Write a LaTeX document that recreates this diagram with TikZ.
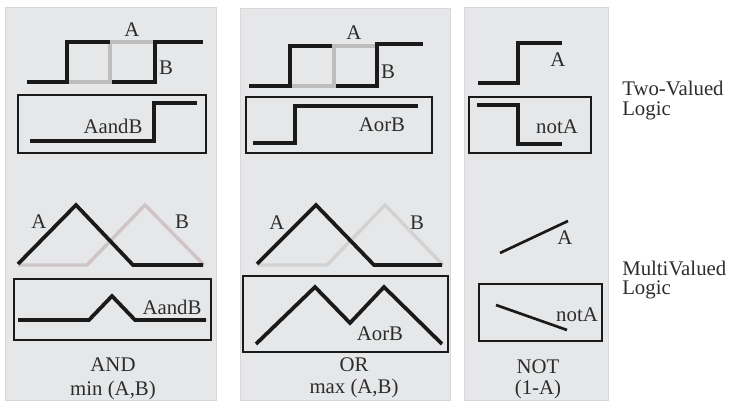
\documentclass[tikz,border=0pt]{standalone}
\usepackage{fontspec}
\setmainfont{Liberation Serif}
\definecolor{panel}{HTML}{E6E7E9}
\definecolor{paneledge}{HTML}{DDD5D7}
\definecolor{ink}{HTML}{1A1A1A}
\definecolor{sig}{HTML}{BDBDBD}
\definecolor{pinkgray}{HTML}{CFC4C7}
\definecolor{lightgray}{HTML}{D2D2D2}
\tikzset{
  panelbox/.style={fill=panel, draw=paneledge, line width=0.6pt},
  frame/.style={draw=ink, line width=1.5pt},
  wave/.style={draw=ink, line width=3pt, line join=miter},
  grayw/.style={draw=sig, line width=3.6pt},
  tri/.style={draw=ink, line width=2.8pt, line join=miter},
  trib/.style={line width=2.6pt, line join=miter},
  thin/.style={draw=ink, line width=2pt},
  lbl/.style={inner sep=0pt, font=\fontsize{15.6}{17.5}\selectfont, text=ink!92},
  side/.style={inner sep=0pt, font=\fontsize{15.6}{17.5}\selectfont, text=ink!92, align=left, anchor=west}
}
\begin{document}
\begin{tikzpicture}[x=0.75pt,y=-0.75pt]
\useasboundingbox (0,0) rectangle (733,403);
% panels
\path[panelbox] (5,7) rectangle (216,400);
\path[panelbox] (240,8) rectangle (450,400);
\path[panelbox] (464,7) rectangle (608,400);

% ---------- Panel 1 top (AND, two-valued)
\draw[grayw] (67,82) -- (110,82) -- (110,42) -- (155,42);
\draw[wave] (27,82) -- (67,82) -- (67,42) -- (110,42);
\draw[wave] (112,82) -- (155,82) -- (155,42) -- (203,42);
\node[lbl] (a1) at (132,30) {A};
\node[lbl] (b1) at (166,68) {B};
\draw[frame] (18,95) rectangle (206,153);
\draw[wave] (30,141) -- (154,141) -- (154,103) -- (197,103);
\node[lbl] (ab1) at (113,126) {AandB};

% ---------- Panel 2 top (OR, two-valued)
\draw[grayw] (290,86) -- (334,86) -- (334,46) -- (377,46);
\draw[wave] (249,86) -- (290,86) -- (290,46) -- (332,46);
\draw[wave] (336,86) -- (377,86) -- (377,44) -- (423,44);
\node[lbl] (a2) at (354,33) {A};
\node[lbl] (b2) at (388,72) {B};
\draw[frame] (246,97) rectangle (432,153);
\draw[wave] (253,143) -- (295,143) -- (295,106) -- (418,106);
\node[lbl] (ab2) at (382,125) {AorB};

% ---------- Panel 3 top (NOT, two-valued)
\draw[wave] (478,83) -- (518,83) -- (518,43) -- (562,43);
\node[lbl] (a3) at (558,60) {A};
\draw[frame] (469,97) rectangle (591,153);
\draw[wave] (477,105) -- (518,105) -- (518,144) -- (562,144);
\node[lbl] (na3) at (557,127) {notA};

% ---------- Panel 1 bottom (AND, multivalued)
\draw[trib, draw=pinkgray] (18,265) -- (87,265) -- (145,205) -- (204,265);
\draw[tri] (18,264) -- (76,205) -- (133,265) -- (203,265);
\node[lbl] (a4) at (39,222) {A};
\node[lbl] (b4) at (182,222) {B};
\draw[frame] (14,279) rectangle (211,340);
\draw[tri] (18,320) -- (89,320) -- (112,296) -- (135,320) -- (206,320);
\node[lbl] (ab4) at (172,307) {AandB};
\node[lbl] (and) at (113,365) {AND};
\node[lbl] (min) at (113,390) {min (A,B)};

% ---------- Panel 2 bottom (OR, multivalued)
\draw[trib, draw=lightgray] (257,265) -- (327,265) -- (385,205) -- (443,265);
\draw[tri] (257,264) -- (316,205) -- (374,265) -- (442,265);
\node[lbl] (a5) at (277,223) {A};
\node[lbl] (b5) at (417,223) {B};
\draw[frame] (243,276) rectangle (448,352);
\draw[tri] (256,344) -- (315,287) -- (350,323) -- (384,287) -- (442,344);
\node[lbl] (ab5) at (380,334) {AorB};
\node[lbl] (or) at (354,365) {OR};
\node[lbl] (max) at (354,388) {max (A,B)};

% ---------- Panel 3 bottom (NOT, multivalued)
\draw[thin] (500,253) -- (568,221);
\node[lbl] (a6) at (565,238) {A};
\draw[frame] (479,284) rectangle (602,341);
\draw[thin] (496,305) -- (567,330);
\node[lbl] (na6) at (577,315) {notA};
\node[lbl] (not) at (538,367) {NOT};
\node[lbl] (onema) at (538,389) {(1-A)};

% ---------- Side captions
\node[side] (tv1) at (622,88) {Two-Valued};
\node[side] (tv2) at (622,111) {Logic};
\node[side] (mv1) at (622,268) {MultiValued};
\node[side] (mv2) at (622,290) {Logic};
\end{tikzpicture}
\end{document}
